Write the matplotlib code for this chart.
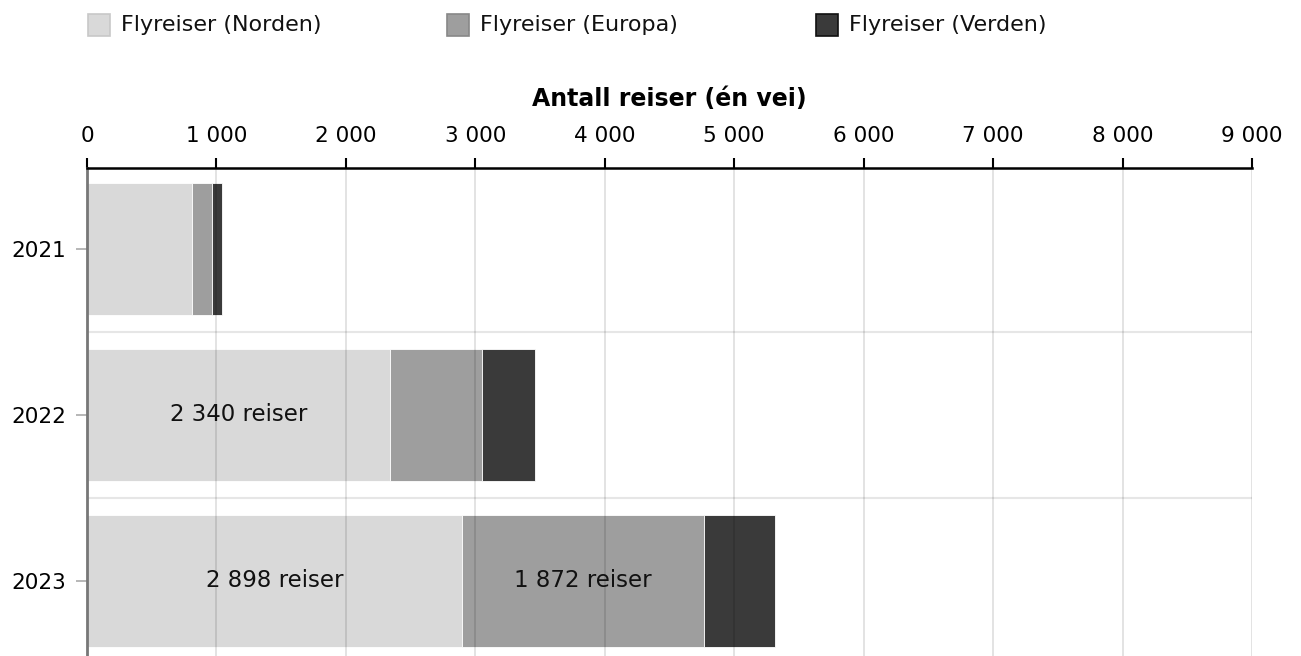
import matplotlib.pyplot as plt
from matplotlib.patches import Rectangle

# Data
years = ['2021', '2022', '2023']
norden = [811, 2340, 2898]
europa = [155, 712, 1872]
verden = [77, 409, 545]
series_names = ['Flyreiser (Norden)', 'Flyreiser (Europa)', 'Flyreiser (Verden)']
series_colors = ['#d9d9d9', '#9e9e9e', '#3a3a3a']
edge_colors = ['#c8c8c8', '#888888', '#111111']
xticks = list(range(0, 9001, 1000))


def fmt(v):
    return f'{v:,}'.replace(',', ' ')


plt.rcParams['font.family'] = 'DejaVu Sans'

fig = plt.figure(figsize=(13.01, 6.56), dpi=100)
ax = fig.add_axes([87 / 1301, 0, (1252 - 87) / 1301, 1 - 168 / 656])

ypos = list(range(len(years)))
left = [0] * len(years)
for vals, col in zip([norden, europa, verden], series_colors):
    ax.barh(ypos, vals, left=left, height=0.8, color=col,
            edgecolor='white', linewidth=0.6, zorder=2)
    for y, v, l in zip(ypos, vals, left):
        if v >= 1200:
            ax.text(l + v / 2, y, fmt(v) + ' reiser', ha='center', va='center',
                    fontsize=16.5, color='#111111', zorder=4)
    left = [a + b for a, b in zip(left, vals)]

ax.set_xlim(0, 9000)
ax.set_ylim(2.452, -0.488)

# grid
for x in xticks[1:]:
    ax.axvline(x, color='black', alpha=0.12, lw=1.3, zorder=3)
for y in [0.5, 1.5]:
    ax.axhline(y, color='#e6e6e6', lw=1.5, zorder=1)

ax.xaxis.tick_top()
ax.xaxis.set_label_position('top')
ax.set_xticks(xticks)
ax.set_xticklabels([fmt(x) for x in xticks], fontsize=15.5)
ax.tick_params(axis='x', length=7, width=1.5, color='black', pad=9)
ax.set_xlabel('Antall reiser (én vei)', fontsize=17, fontweight='bold', labelpad=14)

ax.set_yticks(ypos)
ax.set_yticklabels(years, fontsize=15.5)
ax.tick_params(axis='y', length=8, width=1.2, color='#aaaaaa', pad=7)

for s in ['right', 'bottom']:
    ax.spines[s].set_visible(False)
ax.spines['top'].set_linewidth(1.8)
ax.spines['top'].set_color('black')
ax.spines['left'].set_linewidth(2)
ax.spines['left'].set_color('#777777')

# legend drawn by hand
leg_x = [88, 447, 816]
for lx, name, col, ec in zip(leg_x, series_names, series_colors, edge_colors):
    fig.patches.append(Rectangle((lx / 1301, 1 - 36 / 656), 22 / 1301, 22 / 656,
                                 facecolor=col, edgecolor=ec, lw=1.2,
                                 transform=fig.transFigure))
    fig.text((lx + 33) / 1301, 1 - 25 / 656, name, fontsize=16,
             va='center', ha='left', color='#111111')

fig.savefig('out.png', dpi=100)
